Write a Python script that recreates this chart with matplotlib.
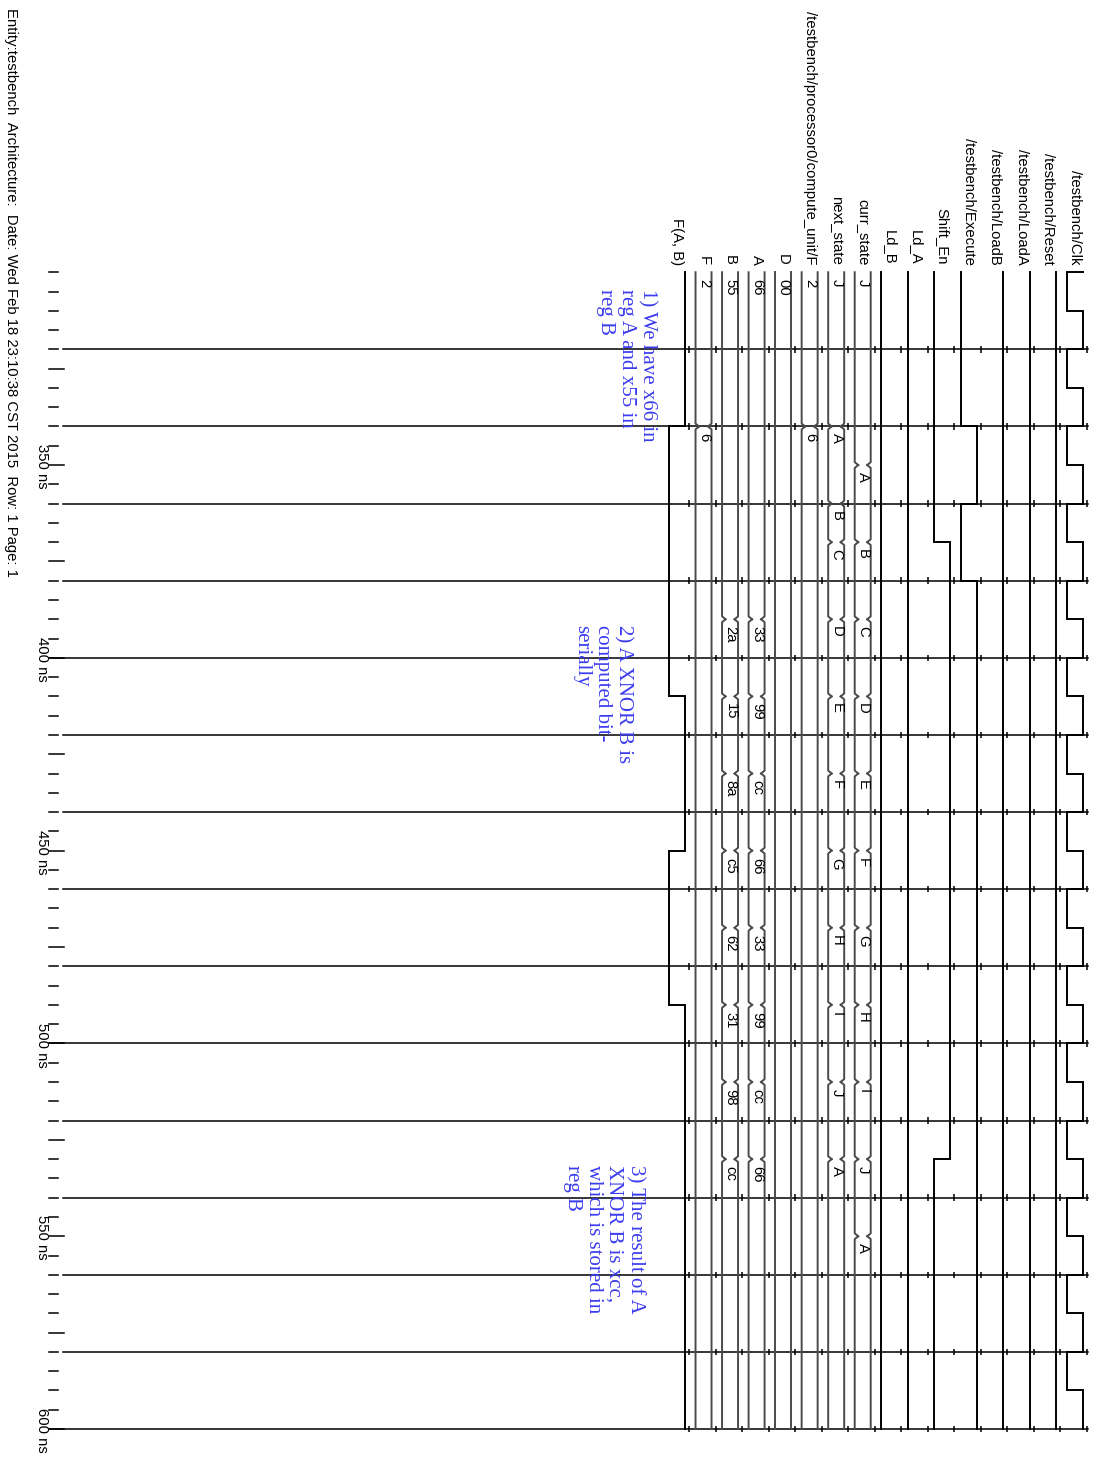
from __future__ import annotations

# Se importa matplotlib sin pantalla para generar la figura.
import matplotlib

matplotlib.use("Agg")
import matplotlib.pyplot as plt
import numpy as np

# Tiempos de la simulación (ns).
T_START = 300
T_END = 600

# Reloj: instantes de cambio y niveles (1 = alto).
clk_times = [300, 300, 310, 320, 330, 340, 350, 360, 370, 380, 390, 400, 410, 420, 430,
             440, 450, 460, 470, 480, 490, 500, 510, 520, 530, 540, 550, 560, 570, 580, 590]
clk_levels = [1, 0, 1, 0, 1, 0, 1, 0, 1, 0, 1, 0, 1, 0, 1,
              0, 1, 0, 1, 0, 1, 0, 1, 0, 1, 0, 1, 0, 1, 0, 1]

# Señales de un bit.
reset_times, reset_levels = [300], [1]
loada_times, loada_levels = [300], [1]
loadb_times, loadb_levels = [300], [1]
execute_times, execute_levels = [300, 340, 360, 380], [0, 1, 0, 1]
shift_en_times, shift_en_levels = [300, 370, 530], [0, 1, 0]
ld_a_times, ld_a_levels = [300], [0]
ld_b_times, ld_b_levels = [300], [0]
fab_times, fab_levels = [300, 340, 410, 450, 490], [1, 0, 1, 0, 1]

# Buses y estados.
curr_state_times = [300, 350, 370, 390, 410, 430, 450, 470, 490, 510, 530, 550]
curr_state_values = ["J", "A", "B", "C", "D", "E", "F", "G", "H", "I", "J", "A"]
next_state_times = [300, 340, 360, 370, 390, 410, 430, 450, 470, 490, 510, 530]
next_state_values = ["J", "A", "B", "C", "D", "E", "F", "G", "H", "I", "J", "A"]
cu_f_times, cu_f_values = [300, 340], ["2", "6"]
d_times, d_values = [300], ["00"]
reg_times = [300, 390, 410, 430, 450, 470, 490, 510, 530]
a_values = ["66", "33", "99", "cc", "66", "33", "99", "cc", "66"]
b_values = ["55", "2a", "15", "8a", "c5", "62", "31", "98", "cc"]
f_times, f_values = [300, 340], ["2", "6"]

# Nombres de las señales, de izquierda a derecha.
lane_names = ["F(A, B)", "F", "B", "A", "D", "/testbench/processor0/compute_unit/F",
              "next_state", "curr_state", "Ld_B", "Ld_A", "Shift_En", "/testbench/Execute",
              "/testbench/LoadB", "/testbench/LoadA", "/testbench/Reset", "/testbench/Clk"]

# Etiquetas de tiempo del eje.
time_labels = [350, 400, 450, 500, 550, 600]

# Notas de la captura: (posición vertical en px, borde derecho en px, texto).
notes = [
    (289, 657, "1) We have x66 in\nreg A and x55 in\nreg B"),
    (625, 633, "2) A XNOR B is\ncomputed bit-\nserially"),
    (1165, 645, "3) The result of A\nXNOR B is xcc,\nwhich is stored in\nreg B"),
]

header = "Entity:testbench  Architecture:  Date: Wed Feb 18 23:10:38 CST 2015  Row: 1 Page: 1"

# Geometría en píxeles para el eje horizontal.
PX_PER_NS = 3.856
T_TOP = 229.4
LANE_X0 = 669.0
LANE_PITCH = 26.53
HIGH = 16.0
TAPER_PX = 3.5
TAPER_NS = 0.75
FONT_SIZE = 10.7
SANS = ["Liberation Sans", "DejaVu Sans"]
SERIF = ["Liberation Serif", "DejaVu Serif"]


def ns_of_px(y_px: float) -> float:
    """Convertir una posición vertical en píxeles a tiempo."""
    return T_TOP + y_px / PX_PER_NS


def lane_x(index: int) -> float:
    """Posición del nivel bajo de un carril."""
    return LANE_X0 + index * LANE_PITCH


def draw_bit(ax, index: int, times: list[int], levels: list[int]) -> None:
    """Dibujar una señal de un bit como escalones verticales."""
    base = lane_x(index)
    xs, ys = [], []
    bounds = times[1:] + [T_END]
    for t0, t1, level in zip(times, bounds, levels):
        x = base + HIGH * level
        xs += [x, x]
        ys += [t0, t1]
    ax.plot(xs, ys, color="black", lw=1.4, solid_joinstyle="miter")


def draw_bus(ax, index: int, times: list[int], values: list[str]) -> None:
    """Dibujar un bus con sus transiciones y valores."""
    base = lane_x(index)
    bounds = times + [T_END]
    last = len(values) - 1
    for k, value in enumerate(values):
        t0, t1 = bounds[k], bounds[k + 1]
        d0 = TAPER_NS if k > 0 else 0.0
        d1 = TAPER_NS if k < last else 0.0
        for edge, sign in ((base, 1), (base + HIGH, -1)):
            xs = [edge + sign * TAPER_PX * (d0 > 0), edge, edge, edge + sign * TAPER_PX * (d1 > 0)]
            ys = [t0, t0 + d0, t1 - d1, t1]
            ax.plot(xs, ys, color="#4a4a4a", lw=1.4)
        ax.text(base + HIGH / 2 + 0.5, t0 + 1.8, value, rotation=-90, rotation_mode="anchor",
                ha="left", va="center", fontsize=FONT_SIZE, family=SANS, color="black")


fig = plt.figure(figsize=(10.93, 14.60), dpi=100)
ax = fig.add_axes([0, 0, 1, 1])
ax.set_xlim(0, 1093)
ax.set_ylim(ns_of_px(1460), T_TOP)
ax.axis("off")

# Rejilla horizontal y marcas de tiempo a la izquierda.
grid_times = np.arange(320, T_END + 1, 20)
minor_times = np.arange(T_START, T_END + 1, 5)
for t in minor_times:
    if t % 25 == 0 and t != T_START:
        ax.plot([49, 64], [t, t], color="black", lw=1.1)
    else:
        ax.plot([49, 58], [t, t], color="black", lw=1.1)
tick_x = [lane_x(i) + 20 for i in range(len(lane_names))]
for t in grid_times:
    x_left = 49 if t % 100 == 0 else 63
    ax.plot([x_left, 1088], [t, t], color="black", lw=1.1)
    ax.vlines(tick_x, t - 0.85, t + 0.85, color="black", lw=1.1)

for t in time_labels:
    ax.text(42, t + 0.4, f"{t} ns", rotation=-90, rotation_mode="anchor",
            ha="center", va="center", fontsize=FONT_SIZE, family=SANS)

# Señales de un bit.
draw_bit(ax, 15, clk_times, clk_levels)
draw_bit(ax, 14, reset_times, reset_levels)
draw_bit(ax, 13, loada_times, loada_levels)
draw_bit(ax, 12, loadb_times, loadb_levels)
draw_bit(ax, 11, execute_times, execute_levels)
draw_bit(ax, 10, shift_en_times, shift_en_levels)
draw_bit(ax, 9, ld_a_times, ld_a_levels)
draw_bit(ax, 8, ld_b_times, ld_b_levels)
draw_bit(ax, 0, fab_times, fab_levels)

# Buses.
draw_bus(ax, 7, curr_state_times, curr_state_values)
draw_bus(ax, 6, next_state_times, next_state_values)
draw_bus(ax, 5, cu_f_times, cu_f_values)
draw_bus(ax, 4, d_times, d_values)
draw_bus(ax, 3, reg_times, a_values)
draw_bus(ax, 2, reg_times, b_values)
draw_bus(ax, 1, f_times, f_values)

# Nombres de las señales.
for i, name in enumerate(lane_names):
    ax.text(lane_x(i) + HIGH / 2, ns_of_px(265), name, rotation=-90, rotation_mode="anchor",
            ha="right", va="center", fontsize=FONT_SIZE, family=SANS, color="black")

# Cabecera de la página.
ax.text(11, ns_of_px(8), header, rotation=-90, rotation_mode="anchor",
        ha="left", va="center", fontsize=FONT_SIZE, family=SANS, color="black")

# Notas en azul.
for y_px, x, text in notes:
    ax.text(x, ns_of_px(y_px), text, rotation=-90, rotation_mode="anchor", ha="left", va="top",
            fontsize=15, family=SERIF, color="#3b3bf0", linespacing=1.13)

fig.savefig("out.png", dpi=100)
plt.close(fig)
